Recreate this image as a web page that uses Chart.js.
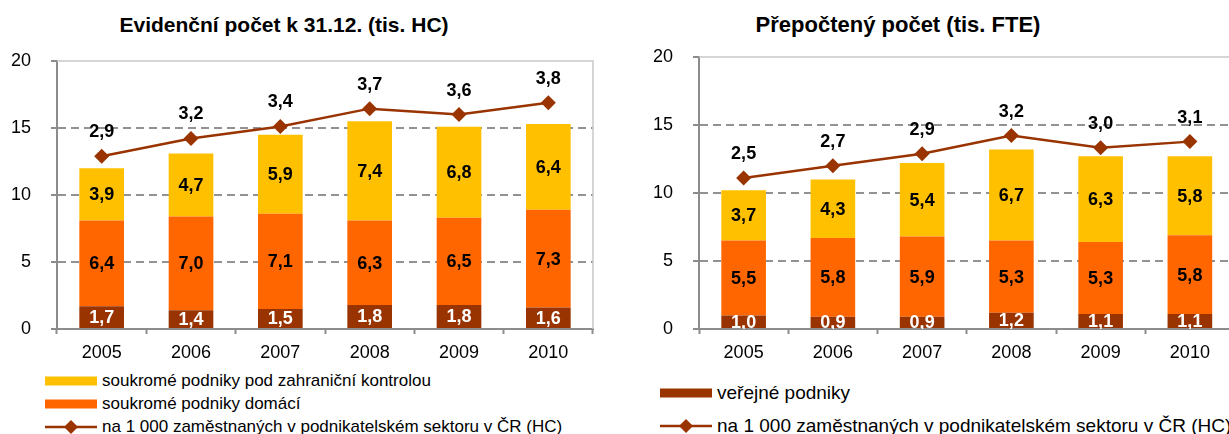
<!DOCTYPE html>
<html>
<head>
<meta charset="utf-8">
<script src="https://cdn.jsdelivr.net/npm/chart.js@4"></script>
<style>
  body { margin: 0; width: 1229px; height: 434px; overflow: hidden; background: #fff; position: relative;
         font-family: "Liberation Sans", Arial, sans-serif; color: #000; }
  canvas { position: absolute; top: 0; }
  .title { position: absolute; top: 14px; font-weight: bold; font-size: 21px; line-height: 22px;
           white-space: nowrap; transform: translateX(-50%); }
  .item { position: absolute; white-space: nowrap; font-size: 17px; height: 20px; line-height: 20px; }
  #fteLegend .item { font-size: 19px; }
  .item svg { vertical-align: middle; margin-right: 5px; position: relative; top: -1px; }
</style>
</head>
<body>
<div class="title" style="left:284px">Evidenční počet k 31.12. (tis. HC)</div>
<div class="title" style="left:898px; font-size:22px">Přepočtený počet (tis. FTE)</div>
<canvas id="hcChart" width="615" height="370" style="left:0"></canvas>
<canvas id="fteChart" width="600" height="370" style="left:642px"></canvas>
<div id="hcLegend"></div>
<div id="fteLegend"></div>
<script>
// Categories
const years = ['2005', '2006', '2007', '2008', '2009', '2010']

// Evidenční počet (tis. HC)
const hcPublic = [1.7, 1.4, 1.5, 1.8, 1.8, 1.6]
const hcDomestic = [6.4, 7.0, 7.1, 6.3, 6.5, 7.3]
const hcForeign = [3.9, 4.7, 5.9, 7.4, 6.8, 6.4]
const hcPer1000 = [2.9, 3.2, 3.4, 3.7, 3.6, 3.8]

// Přepočtený počet (tis. FTE)
const ftePublic = [1.0, 0.9, 0.9, 1.2, 1.1, 1.1]
const fteDomestic = [5.5, 5.8, 5.9, 5.3, 5.3, 5.8]
const fteForeign = [3.7, 4.3, 5.4, 6.7, 6.3, 5.8]
const ftePer1000 = [2.5, 2.7, 2.9, 3.2, 3.0, 3.1]

// Series names and colours
const nameForeign = 'soukromé podniky pod zahraniční kontrolou'
const nameDomestic = 'soukromé podniky domácí'
const namePublic = 'veřejné podniky'
const namePer1000 = 'na 1 000 zaměstnaných v podnikatelském sektoru v ČR (HC)'
const colorForeign = '#FFC000'
const colorDomestic = '#FF6600'
const colorPublic = '#993300'
const colorLine = '#993300'

const FONT = '"Liberation Sans", Arial, sans-serif'

// format 3.9 -> "3,9"
function fmt(v) {
  return v.toFixed(1).replace('.', ',')
}

// draws the value labels on bars and above the line points
const valueLabels = {
  id: 'valueLabels',
  afterDatasetsDraw(chart) {
    const ctx = chart.ctx
    const area = chart.chartArea
    ctx.save()
    ctx.font = 'bold 18px ' + FONT
    ctx.textAlign = 'center'
    ctx.textBaseline = 'middle'
    chart.data.datasets.forEach((ds, i) => {
      const meta = chart.getDatasetMeta(i)
      meta.data.forEach((el, j) => {
        const v = ds.data[j]
        if (ds.type === 'line') {
          ctx.fillStyle = '#000'
          ctx.fillText(fmt(v), el.x, el.y - 24)
        } else {
          ctx.save()
          ctx.beginPath()
          ctx.rect(area.left, area.top, area.right - area.left, area.bottom - area.top)
          ctx.clip()
          ctx.fillStyle = ds.labelColor
          ctx.fillText(fmt(v), el.x, (el.y + el.base) / 2 + 1)
          ctx.restore()
        }
      })
    })
    ctx.restore()
  }
}

// light frame on top and right of the plot area
const plotFrame = {
  id: 'plotFrame',
  beforeDatasetsDraw(chart) {
    const ctx = chart.ctx
    const a = chart.chartArea
    ctx.save()
    ctx.strokeStyle = '#c8c8c8'
    ctx.lineWidth = 1.5
    ctx.beginPath()
    ctx.moveTo(a.left, a.top)
    ctx.lineTo(a.right, a.top)
    ctx.lineTo(a.right, a.bottom)
    ctx.stroke()
    ctx.restore()
  }
}

function makeChart(id, pub, dom, forn, per1000, padTop, padRight) {
  const ctx = document.getElementById(id).getContext('2d')
  return new Chart(ctx, {
    type: 'bar',
    data: {
      labels: years,
      datasets: [
        {
          type: 'line',
          label: namePer1000,
          data: per1000,
          yAxisID: 'y1',
          order: 0,
          borderColor: colorLine,
          borderWidth: 2.5,
          pointStyle: 'rectRot',
          pointRadius: 7.5,
          pointBackgroundColor: colorLine,
          pointBorderWidth: 0
        },
        { label: namePublic, data: pub, backgroundColor: colorPublic, labelColor: '#fff', order: 1 },
        { label: nameDomestic, data: dom, backgroundColor: colorDomestic, labelColor: '#000', order: 1 },
        { label: nameForeign, data: forn, backgroundColor: colorForeign, labelColor: '#000', order: 1 }
      ]
    },
    options: {
      responsive: false,
      animation: false,
      devicePixelRatio: 1,
      layout: { padding: { top: padTop, right: padRight, left: 0, bottom: 0 } },
      datasets: { bar: { categoryPercentage: 1, barPercentage: 0.5 } },
      plugins: { legend: { display: false }, tooltip: { enabled: false } },
      scales: {
        x: {
          stacked: true,
          grid: { drawOnChartArea: false, drawTicks: true, tickLength: 5, tickColor: '#8c8c8c', tickWidth: 2 },
          border: { color: '#8c8c8c', width: 2 },
          ticks: { color: '#000', font: { family: FONT, size: 18 }, padding: 8, maxRotation: 0 },
          afterFit(scale) { scale.height = 41 }
        },
        y: {
          stacked: true,
          min: 0,
          max: 20,
          ticks: { stepSize: 5, color: '#000', font: { family: FONT, size: 18 }, padding: 20 },
          grid: {
            color: c => (c.tick && c.tick.value > 0 && c.tick.value < 20 ? '#929292' : 'rgba(0,0,0,0)'),
            lineWidth: 2,
            tickColor: '#8c8c8c',
            tickWidth: 2,
            tickLength: 6
          },
          border: { color: '#8c8c8c', width: 2, dash: [8, 5] },
          afterFit(scale) { scale.width = 57 }
        },
        y1: { display: false, min: 0, max: 4.5 }
      }
    },
    plugins: [plotFrame, valueLabels]
  })
}

makeChart('hcChart', hcPublic, hcDomestic, hcForeign, hcPer1000, 61, 22)
makeChart('fteChart', ftePublic, fteDomestic, fteForeign, ftePer1000, 57, 0)

// Legends built as html below each chart
function swatch(color, isLine) {
  if (isLine) {
    return '<svg width="52" height="14"><line x1="0" y1="7" x2="52" y2="7" stroke="' + color +
      '" stroke-width="2.5"/><polygon points="26,0 33,7 26,14 19,7" fill="' + color + '"/></svg>'
  }
  return '<svg width="52" height="14"><rect x="0" y="2.5" width="52" height="9" fill="' + color + '"/></svg>'
}

function buildLegend(id, left, items) {
  const box = document.getElementById(id)
  items.forEach(it => {
    const d = document.createElement('div')
    d.className = 'item'
    d.style.left = left + 'px'
    d.style.top = (it.y - 10) + 'px'
    d.innerHTML = swatch(it.color, it.line) + it.name
    box.appendChild(d)
  })
}

buildLegend('hcLegend', 45, [
  { name: nameForeign, color: colorForeign, y: 381 },
  { name: nameDomestic, color: colorDomestic, y: 404 },
  { name: namePer1000, color: colorLine, line: true, y: 427 }
])
buildLegend('fteLegend', 660, [
  { name: namePublic, color: colorPublic, y: 393 },
  { name: namePer1000, color: colorLine, line: true, y: 426 }
])
</script>
</body>
</html>
